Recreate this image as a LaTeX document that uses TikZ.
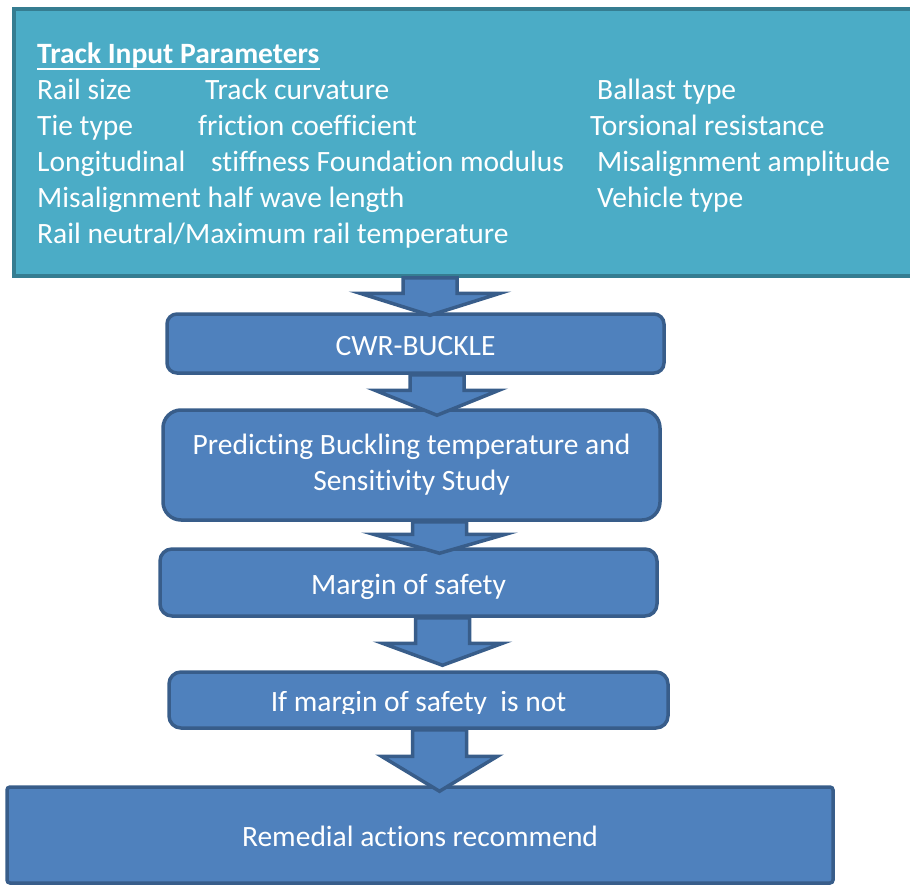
\documentclass[tikz,border=0pt]{standalone}
\usepackage{fontspec}
\setmainfont{Carlito}[Ligatures=NoCommon]
\usepackage{trimclip}
\usetikzlibrary{calc}

\definecolor{paramfill}{HTML}{4BACC6}
\definecolor{paramline}{HTML}{357D91}
\definecolor{stepfill}{HTML}{4F81BD}
\definecolor{stepline}{HTML}{385D8A}

\begin{document}
\begin{tikzpicture}[
  x=1pt, y=-1pt,
  font=\fontsize{29.5}{36}\selectfont,
  text=white,
  param/.style={anchor=base west, inner sep=0pt},
  flowbox/.style={rounded corners=#1, draw=stepline, fill=stepfill,
                  line width=3.5pt, align=center, inner sep=0pt},
  flowbox/.default=10pt,
  flowline/.style={text height=23pt, text depth=0pt},
  barrow/.style={draw=stepline, fill=stepfill, line width=3.5pt, line join=miter},
]

% page frame, the input panel runs off the right edge
\clip (0,0) rectangle (910,886);

% input panel with its parameter list
\node[draw=paramline, fill=paramfill, line width=3.5pt, inner sep=0pt,
      minimum width=915pt, minimum height=267pt] (params) at (471.5,142.5) {};
\node[param] (ttl) at (37,63) {\bfseries Track Input Parameters};
\draw[white, line width=2pt] ([yshift=-5.5pt]ttl.base west) -- ([yshift=-5.5pt]ttl.base east);
\foreach \px/\py/\ptxt [count=\i] in {
    37/99/Rail size, 205/99/Track curvature, 597/99/Ballast type,
    37/135/Tie type, 198/135/friction coefficient, 590/135/Torsional resistance,
    37/171/Longitudinal, 211/171/stiffness Foundation modulus, 597/171/Misalignment amplitude,
    37/207/Misalignment half wave length, 597/207/Vehicle type,
    37/243/Rail neutral\slash Maximum rail temperature}
  \node[param] (par\i) at (\px,\py) {\ptxt};

% process steps
\node[flowbox, flowline, minimum width=497pt, minimum height=59pt] (cwr) at (415.5,343.5) {CWR-BUCKLE};
\node[flowbox=18pt, minimum width=497pt, minimum height=110pt] (pred) at (411.5,465)
  {Predicting Buckling temperature and\\ Sensitivity Study};
\node[flowbox=12pt, flowline, minimum width=497pt, minimum height=67pt] (margin) at (408.5,582.5) {Margin of safety};
\node[flowbox=12pt, flowline, minimum width=499pt, minimum height=56pt] (notok) at (418.5,700)
  {\clipbox{0pt 3.5pt 0pt 0pt}{If margin of safety\ \ is not}};
\node[flowbox=3pt, flowline, minimum width=826pt, minimum height=96pt] (remedy) at (420,835) {Remedial actions recommend};

% #1 upper box, #2 lower box, #3 shaft centre x, #4 head half width, #5 head depth, #6 tip overlap
\newcommand{\flowarrow}[6]{%
  \draw[barrow] let \p1=(#1.south), \p2=(#2.north) in
    ({#3pt-27pt},\y1) -- ({#3pt+27pt},\y1) -- ({#3pt+27pt},{\y2-#6pt+#5pt})
    -- ({#3pt+#4pt},{\y2-#6pt+#5pt}) -- (#3pt,{\y2-#6pt})
    -- ({#3pt-#4pt},{\y2-#6pt+#5pt}) -- ({#3pt-27pt},{\y2-#6pt+#5pt}) -- cycle;
}

\flowarrow{params}{cwr}{430}{70}{22}{3}
\flowarrow{cwr}{pred}{437}{62}{25}{7}
\flowarrow{pred}{margin}{439.5}{66}{19}{6}
\flowarrow{margin}{notok}{442.5}{60}{22}{-5}
\flowarrow{notok}{remedy}{439.5}{58}{35}{6}

\end{tikzpicture}
\end{document}
